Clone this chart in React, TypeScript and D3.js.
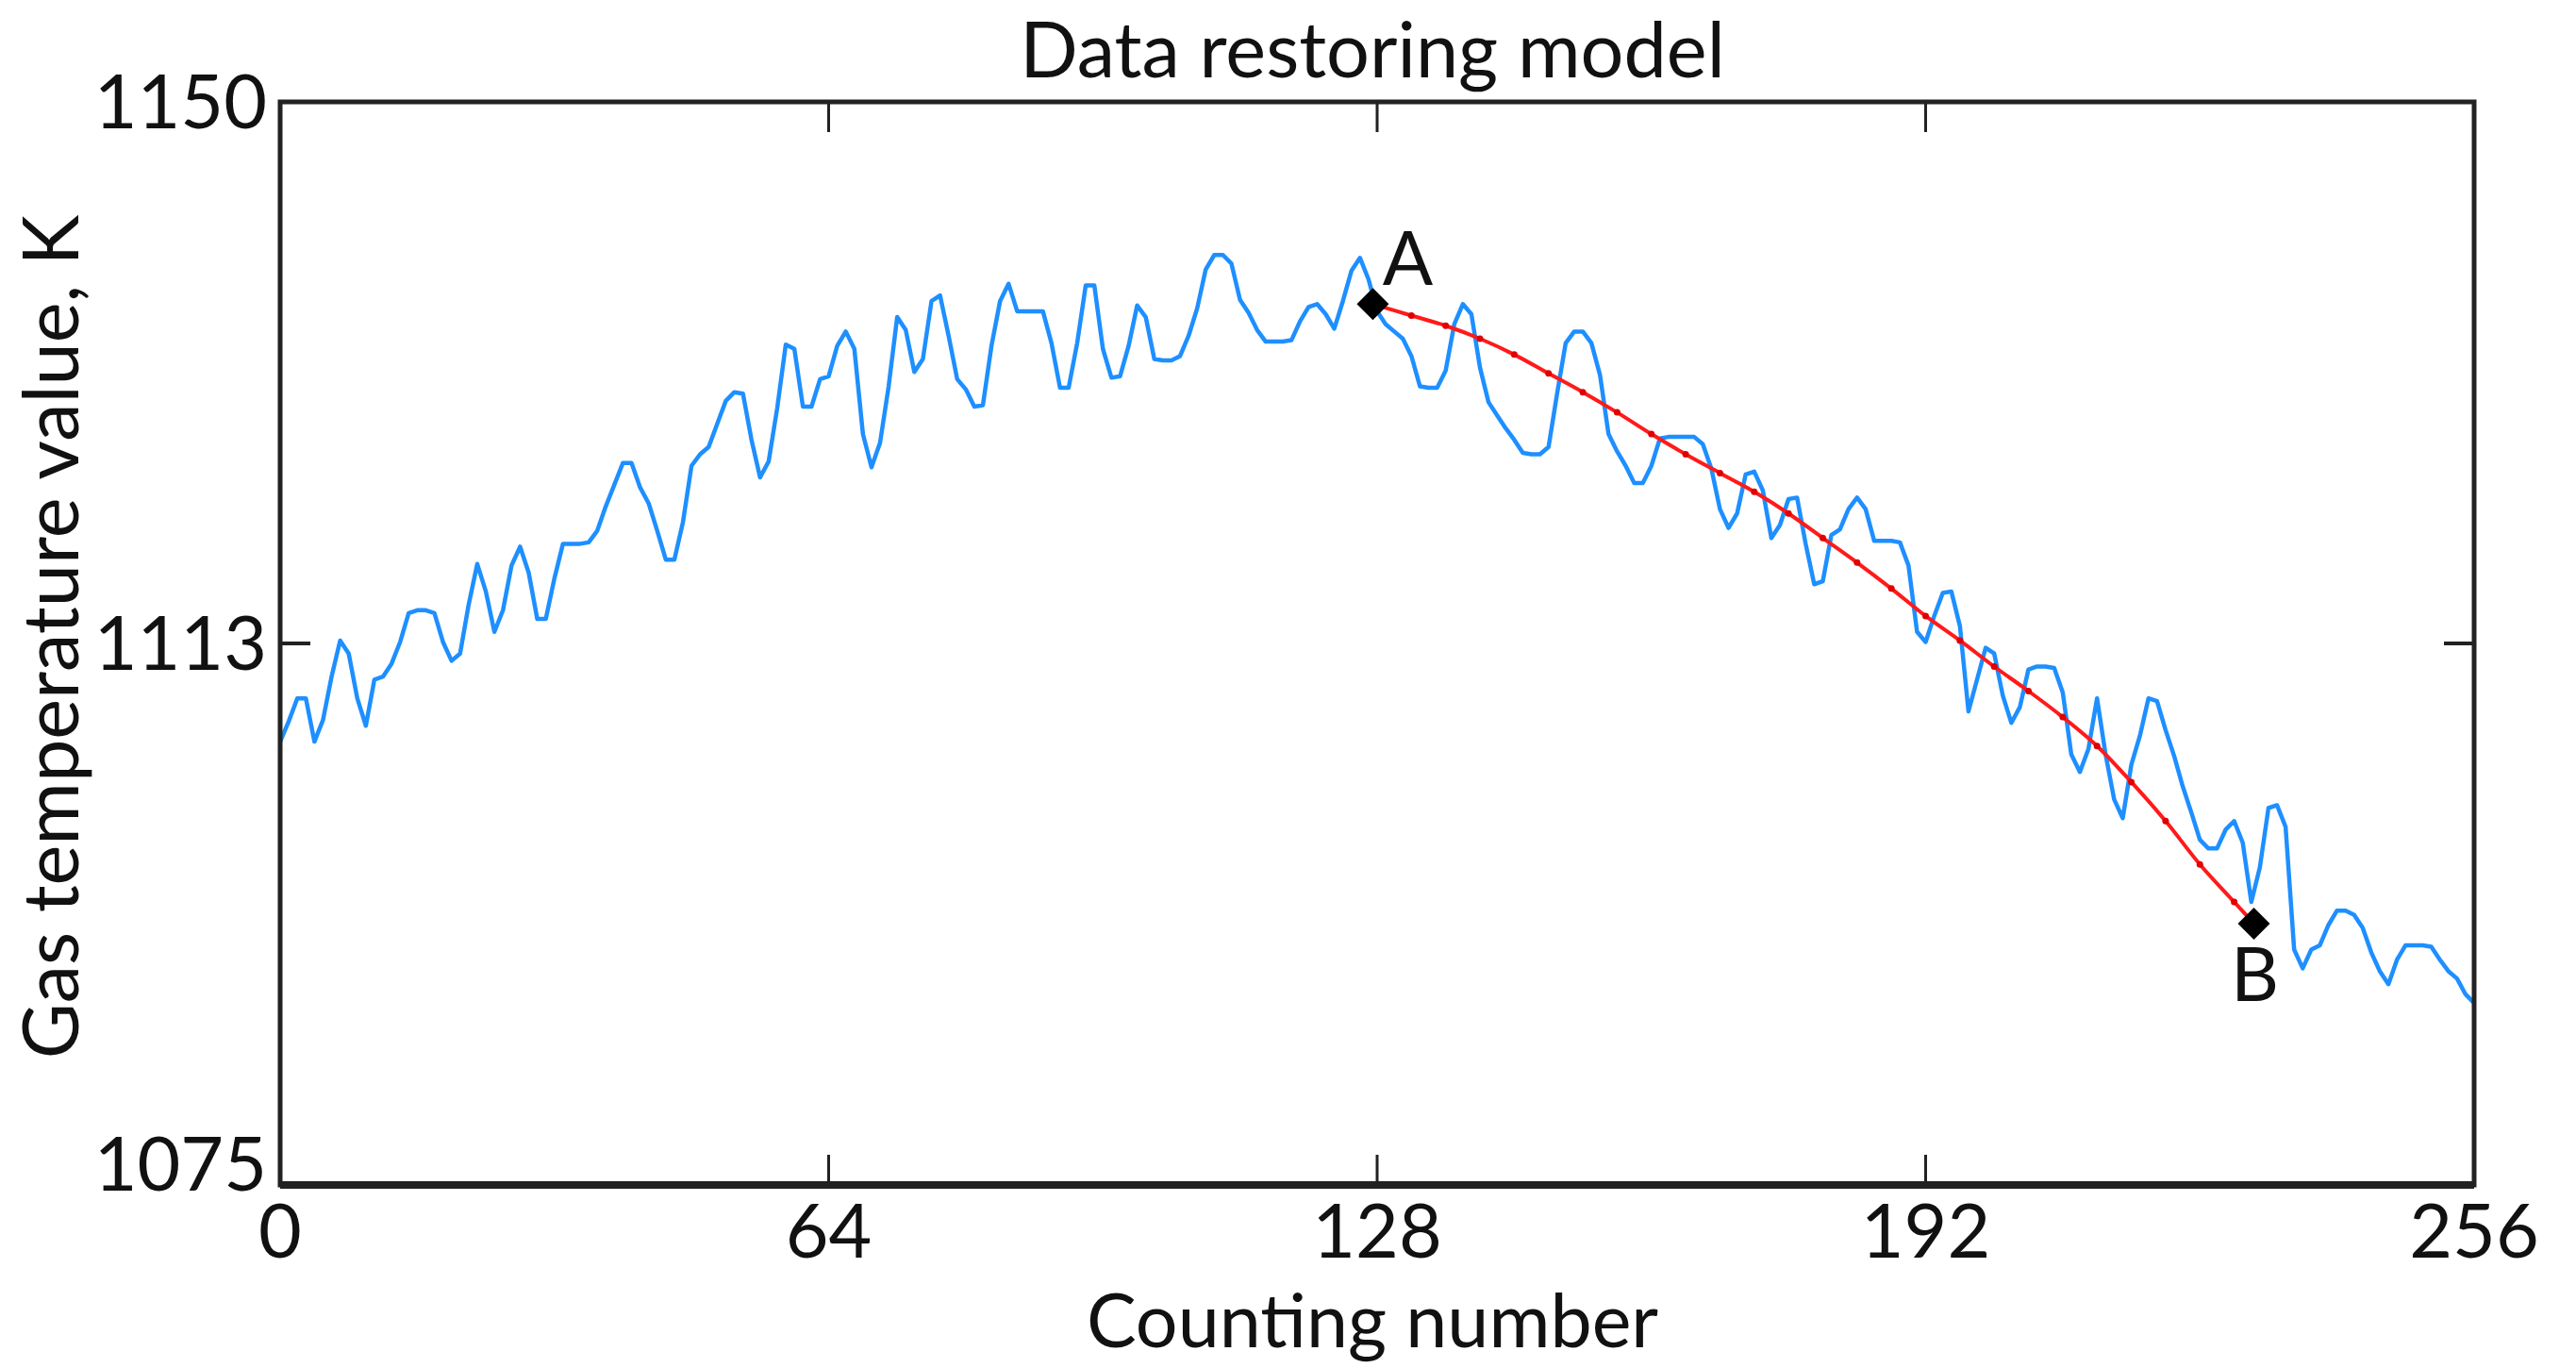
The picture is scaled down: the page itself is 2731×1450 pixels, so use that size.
import React from "react";
import * as d3 from "d3";

const xTicks = [0, 64, 128, 192, 256];
const yTickValues = [1075, 1112.5, 1150];
const yTickLabels = ["1075", "1113", "1150"];

const blueValues = [
  1105.7,1107.1,1108.7,1108.7,1105.7,1107.2,1110.2,1112.7,1111.8,1108.7,
  1106.8,1110.0,1110.2,1111.1,1112.6,1114.6,1114.8,1114.8,1114.6,1112.6,
  1111.3,1111.8,1115.2,1118.0,1116.1,1113.3,1114.8,1117.9,1119.2,1117.4,
  1114.2,1114.2,1117.0,1119.4,1119.4,1119.4,1119.5,1120.3,1122.0,1123.5,
  1125.0,1125.0,1123.3,1122.2,1120.3,1118.3,1118.3,1120.9,1124.8,1125.6,
  1126.1,1127.7,1129.3,1129.9,1129.8,1126.6,1124.0,1125.1,1128.8,1133.2,
  1132.9,1128.9,1128.9,1130.8,1131.0,1133.1,1134.1,1132.9,1127.0,1124.7,
  1126.4,1130.3,1135.1,1134.2,1131.3,1132.2,1136.2,1136.6,1133.8,1130.8,
  1130.1,1128.9,1129.0,1133.1,1136.2,1137.4,1135.5,1135.5,1135.5,1135.5,
  1133.3,1130.2,1130.2,1133.3,1137.3,1137.3,1132.9,1130.9,1131.0,1133.1,
  1135.9,1135.1,1132.2,1132.1,1132.1,1132.4,1133.8,1135.7,1138.4,1139.4,
  1139.4,1138.8,1136.3,1135.4,1134.2,1133.4,1133.4,1133.4,1133.5,1134.8,
  1135.8,1136.0,1135.3,1134.3,1136.2,1138.3,1139.2,1137.7,1135.5,1134.6,
  1134.1,1133.6,1132.4,1130.3,1130.2,1130.2,1131.4,1134.6,1136.0,1135.3,
  1131.6,1129.2,1128.3,1127.4,1126.6,1125.7,1125.6,1125.6,1126.1,1129.8,
  1133.3,1134.1,1134.1,1133.3,1131.1,1127.0,1125.8,1124.8,1123.6,1123.6,
  1124.8,1126.7,1126.8,1126.8,1126.8,1126.8,1126.3,1124.6,1121.8,1120.5,
  1121.5,1124.2,1124.4,1123.1,1119.8,1120.7,1122.5,1122.6,1119.4,1116.6,
  1116.8,1120.0,1120.4,1121.8,1122.6,1121.8,1119.6,1119.6,1119.6,1119.5,
  1117.9,1113.3,1112.6,1114.4,1116.0,1116.1,1113.7,1107.8,1110.0,1112.2,
  1111.8,1108.9,1107.0,1108.1,1110.7,1110.9,1110.9,1110.8,1109.1,1104.8,
  1103.6,1105.2,1108.7,1104.8,1101.7,1100.4,1104.1,1106.1,1108.7,1108.5,
  1106.5,1104.7,1102.6,1100.8,1098.9,1098.3,1098.3,1099.6,1100.2,1098.7,
  1094.6,1097.0,1101.1,1101.3,1099.8,1091.3,1090.0,1091.3,1091.6,1093.0,
  1094.0,1094.0,1093.7,1092.8,1091.1,1089.8,1088.9,1090.6,1091.6,1091.6,
  1091.6,1091.5,1090.6,1089.8,1089.3,1088.2,1087.6,
];

const redCounts = [127.5,132,136,140,144,148,152,156,160,164,168,172,176,180,184,188,192,196,200,204,208,212,216,220,224,228,230.3];
const redValues = [1136.0,1135.2,1134.5,1133.6,1132.5,1131.2,1129.9,1128.5,1127.0,1125.6,1124.3,1123.0,1121.5,1119.8,1118.1,1116.3,1114.4,1112.7,1110.9,1109.2,1107.4,1105.4,1102.9,1100.2,1097.2,1094.6,1093.1];

const markerCounts = [127.5, 230.3];
const markerValues = [1136.0, 1093.1];
const markerLabels = ["A", "B"];

const FONT = "Lato, 'Open Sans', sans-serif";

export default function App() {
  React.useEffect(() => {
    document.body.style.margin = "0";
  }, []);

  const W = 2731, H = 1450;
  const x = d3.scaleLinear().domain([0, 256]).range([297, 2623]);
  const y = d3.scaleLinear().domain([1075, 1150]).range([1256, 108]);

  const blueLine = d3
    .line<number>()
    .x((_, i) => x(i))
    .y((d) => y(d));

  const redPts = redCounts.map((c, i) => [c, redValues[i]] as [number, number]);
  const redLine = d3
    .line<[number, number]>()
    .x((d) => x(d[0]))
    .y((d) => y(d[1]))
    .curve(d3.curveCatmullRom);

  const fsTick = 79;
  const fsLabel = 81;
  const tickLen = 32;
  const x0 = x(0), x1 = x(256), yTop = y(1150), yBot = y(1075);

  return (
    <svg width={W} height={H} style={{ position: "absolute", left: 0, top: 0, background: "#fff" }} fontFamily={FONT}>
      <rect x={0} y={0} width={W} height={H} fill="#fff" />
      {/* title */}
      <text x={1455} y={82} textAnchor="middle" fontSize={fsLabel} fill="#111">Data restoring model</text>

      {/* data */}
      <path d={blueLine(blueValues) || ""} fill="none" stroke="#1e8fff" strokeWidth={4.5} strokeLinejoin="round" />
      <path d={redLine(redPts) || ""} fill="none" stroke="#ff1a1a" strokeWidth={4} />
      {redPts.map((p, i) => (
        <circle key={i} cx={x(p[0])} cy={y(p[1])} r={3.5} fill="#e00000" />
      ))}
      {markerCounts.map((c, i) => {
        const cx = x(c), cy = y(markerValues[i]);
        const s = 17;
        return (
          <path key={i} d={`M${cx},${cy - s}L${cx + s},${cy}L${cx},${cy + s}L${cx - s},${cy}Z`} fill="#000" />
        );
      })}
      <text x={x(markerCounts[0]) + 37} y={y(markerValues[0]) - 20} textAnchor="middle" fontSize={fsTick} fill="#111">{markerLabels[0]}</text>
      <text x={x(markerCounts[1]) + 1} y={y(markerValues[1]) + 82} textAnchor="middle" fontSize={fsTick} fill="#111">{markerLabels[1]}</text>

      {/* axes box */}
      <rect x={x0} y={yTop} width={x1 - x0} height={yBot - yTop} fill="none" stroke="#222" strokeWidth={5} />
      <line x1={x0} x2={x1} y1={yBot} y2={yBot} stroke="#222" strokeWidth={8} />

      {/* x ticks */}
      {xTicks.filter((t) => t > 0 && t < 256).map((t) => (
        <g key={t}>
          <line x1={x(t)} x2={x(t)} y1={yBot} y2={yBot - tickLen} stroke="#222" strokeWidth={3} />
          <line x1={x(t)} x2={x(t)} y1={yTop} y2={yTop + tickLen} stroke="#222" strokeWidth={3} />
        </g>
      ))}
      {xTicks.map((t) => (
        <text key={t} x={x(t)} y={1333} textAnchor="middle" fontSize={fsTick} fill="#111">{t}</text>
      ))}

      {/* y ticks */}
      {yTickValues.filter((v) => v > 1075 && v < 1150).map((v) => (
        <g key={v}>
          <line x1={x0} x2={x0 + tickLen} y1={y(v)} y2={y(v)} stroke="#222" strokeWidth={4} />
          <line x1={x1} x2={x1 - tickLen} y1={y(v)} y2={y(v)} stroke="#222" strokeWidth={4} />
        </g>
      ))}
      {yTickValues.map((v, i) => (
        <text key={v} x={283} y={v === 1075 ? y(v) - 22 : y(v)} dy="0.36em" textAnchor="end" fontSize={fsTick} fill="#111">{yTickLabels[i]}</text>
      ))}

      {/* axis labels */}
      <text x={1455} y={1428} textAnchor="middle" fontSize={fsTick} fill="#111">Counting number</text>
      <text transform={`translate(83,675) rotate(-90)`} textAnchor="middle" fontSize={fsLabel} fill="#111">Gas temperature value, K</text>
    </svg>
  );
}
